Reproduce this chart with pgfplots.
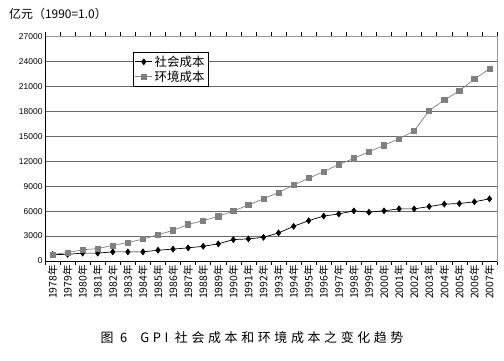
\documentclass[border=0pt]{standalone}
\usepackage{fontspec}
\setmainfont{Noto Sans CJK SC}
\newfontfamily\numfont{Liberation Sans}
\usepackage{pgfplots}
\pgfplotsset{compat=1.18}
\definecolor{envgray}{RGB}{128,128,128}
\definecolor{gridgray}{RGB}{105,105,105}
\definecolor{boxgray}{RGB}{150,150,150}
\begin{document}
\begin{tikzpicture}[x=1bp,y=1bp]
\useasboundingbox (0,0) rectangle (504,360);
\begin{axis}[
  scale only axis, width=452bp, height=224.5bp,
  at={(45bp,99bp)}, anchor=south west,
  xmin=-0.5, xmax=29.5, ymin=0, ymax=27000,
  ytick={0,3000,...,27000},
  scaled y ticks=false,
  yticklabel style={font=\fontsize{8.5}{9}\numfont, /pgf/number format/1000 sep={}, /pgf/number format/assume math mode=true},
  yticklabel shift=-1bp,
  xtick={0,...,29},
  xticklabels={1978年,1979年,1980年,1981年,1982年,1983年,1984年,1985年,1986年,1987年,1988年,1989年,1990年,1991年,1992年,1993年,1994年,1995年,1996年,1997年,1998年,1999年,2000年,2001年,2002年,2003年,2004年,2005年,2006年,2007年},
  xticklabel style={rotate=90, anchor=east, font=\fontsize{10.5}{11}\selectfont, inner sep=1bp},
  xticklabel shift=3bp,
  major tick length=0pt,
  minor xtick={-0.5,0.5,...,29.5},
  minor tick length=4bp,
  tick align=outside,
  minor x tick style={black, line width=0.6bp},
  ymajorgrids=true,
  major grid style={draw=gridgray, line width=0.8bp},
  axis line style={draw=boxgray, line width=0.8bp},
  legend style={at={(0.195,0.931)}, anchor=north west, draw=black, line width=0.6bp,
    font=\fontsize{12.5}{13}\selectfont, inner sep=1.5bp, row sep=-1bp,
    legend cell align=left},
  legend image post style={line width=0.7bp},
]
\addplot[black, line width=0.7bp, mark=diamond*, mark size=2.9bp, mark options={fill=black}] table {
x y
0 780
1 800
2 950
3 950
4 1100
5 1100
6 1100
7 1300
8 1430
9 1580
10 1770
11 2060
12 2575
13 2660
14 2850
15 3380
16 4170
17 4850
18 5410
19 5660
20 6030
21 5870
22 6030
23 6270
24 6270
25 6550
26 6840
27 6910
28 7120
29 7480
};
\addlegendentry{社会成本}
\addplot[envgray, line width=0.7bp, mark=square*, mark size=2.6bp, mark options={fill=envgray, draw=envgray}] table {
x y
0 780
1 1020
2 1340
3 1500
4 1870
5 2230
6 2630
7 3160
8 3680
9 4400
10 4850
11 5370
12 6010
13 6730
14 7480
15 8240
16 9130
17 9960
18 10750
19 11600
20 12340
21 13150
22 13900
23 14720
24 15640
25 18100
26 19340
27 20470
28 21870
29 23120
};
\addlegendentry{环境成本}
\draw[black, line width=0.8bp] (rel axis cs:0,1) -- (rel axis cs:0,0) -- (rel axis cs:1,0);
\end{axis}
\node[anchor=west, inner sep=0pt, font=\fontsize{12}{13}\selectfont] at (9,346) {亿元（1990=1.0）};
\node[inner sep=0pt, font=\fontsize{13}{14}\selectfont\addfontfeatures{LetterSpace=28}] at (252,22) {图 6 \ GPI 社会成本和环境成本之变化趋势};
\end{tikzpicture}
\end{document}
